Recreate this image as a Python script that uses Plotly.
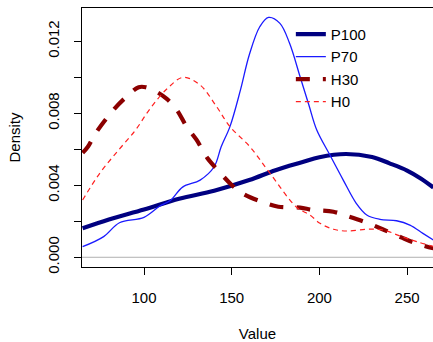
import plotly.graph_objects as go

# ---- data ----
p100_x = [65, 80, 100, 120, 140, 160, 175, 190, 200, 215, 230, 240, 250, 258, 265]
p100_y = [0.00161, 0.0021, 0.00265, 0.00325, 0.0037, 0.00429, 0.00484, 0.00528, 0.00556,
          0.00574, 0.00557, 0.00522, 0.00482, 0.00437, 0.00388]

p70_x = [65, 77, 86, 100, 109, 115, 122, 132, 140, 144, 149, 155, 160, 166, 171, 177.5,
         183, 189, 194, 198.5, 206, 213.6, 221, 227, 234.5, 244, 251.6, 259, 265]
p70_y = [0.00059, 0.00115, 0.00192, 0.00222, 0.00285, 0.00315, 0.0039, 0.00429, 0.00503,
         0.00614, 0.00726, 0.0093, 0.01124, 0.01281, 0.01333, 0.013, 0.01189, 0.01003,
         0.00846, 0.00707, 0.00568, 0.00429, 0.003, 0.00235, 0.00211, 0.00203, 0.00179,
         0.00133, 0.00096]

h30_x = [65, 68, 72.4, 82.5, 90, 97, 101, 107, 113, 118.6, 124.3, 130, 136, 142, 150,
         156.6, 167, 176.6, 189, 196, 208, 217, 228, 236, 247, 255, 265]
h30_y = [0.0058, 0.00614, 0.00689, 0.00818, 0.00892, 0.00945, 0.00945, 0.0092, 0.0088,
         0.0082, 0.00726, 0.00652, 0.00553, 0.00485, 0.00402, 0.00352, 0.00309, 0.00281,
         0.00276, 0.00263, 0.00253, 0.00226, 0.00189, 0.00156, 0.00109, 0.00078, 0.0005]

h0_x = [65, 75, 85, 95, 103.4, 113, 122.4, 132, 141.4, 149, 160.4, 171.8, 187, 194.6,
        200.3, 208, 215.6, 227, 236.4, 246, 255.5, 265]
h0_y = [0.00318, 0.0047, 0.0059, 0.00705, 0.00825, 0.00935, 0.01, 0.00957, 0.00837,
        0.00726, 0.00614, 0.00467, 0.00278, 0.00235, 0.00189, 0.00156, 0.00146, 0.00156,
        0.00152, 0.00118, 0.00087, 0.0006]

x_ticks = [100, 150, 200, 250]
y_ticks = [0.0, 0.002, 0.004, 0.006, 0.008, 0.010, 0.012]
y_tick_text = ["0.000", "", "0.004", "", "0.008", "", "0.012"]

FONT = "Liberation Sans, Arial, Helvetica, sans-serif"

fig = go.Figure()
fig.add_trace(go.Scatter(x=p100_x, y=p100_y, name="P100", mode="lines",
                         line=dict(color="#000080", width=4.2, shape="spline")))
fig.add_trace(go.Scatter(x=p70_x, y=p70_y, name="P70", mode="lines",
                         line=dict(color="#1a1aff", width=1.3, shape="spline")))
fig.add_trace(go.Scatter(x=h30_x, y=h30_y, name="H30", mode="lines",
                         line=dict(color="#8B0000", width=4.2, shape="spline", dash="14px,13px")))
fig.add_trace(go.Scatter(x=h0_x, y=h0_y, name="H0", mode="lines",
                         line=dict(color="#ff2020", width=1.2, shape="spline", dash="5px,4px")))

fig.add_hline(y=0, line=dict(color="#b0b0b0", width=1), layer="below")

fig.update_layout(
    width=433, height=342,
    margin=dict(l=82, r=0, t=8, b=75, pad=0, autoexpand=False),
    paper_bgcolor="white", plot_bgcolor="white",
    font=dict(family=FONT, size=15, color="black"),
    showlegend=True,
    legend=dict(x=0.595, xanchor="left", y=0.962, yanchor="top",
                bgcolor="rgba(0,0,0,0)", borderwidth=0,
                font=dict(family=FONT, size=15, color="black"),
                tracegroupgap=0, itemwidth=30),
    xaxis=dict(range=[64.65, 264.77], tickvals=x_ticks, ticks="outside", ticklen=7,
               tickwidth=1, tickcolor="black", showline=True, linecolor="black",
               linewidth=1.2, mirror=True, showgrid=False, zeroline=False,
               ticklabelstandoff=10, automargin=False,
               title=dict(text="Value", standoff=23, font=dict(size=15))),
    yaxis=dict(range=[-0.00054, 0.013852], tickvals=y_ticks, ticktext=y_tick_text,
               ticks="outside", ticklen=7, tickwidth=1, tickcolor="black",
               showline=True, linecolor="black", linewidth=1.2, mirror=False,
               showgrid=False, zeroline=False, tickangle=-90, ticklabelstandoff=9,
               automargin=False,
               title=dict(text="Density", standoff=20, font=dict(size=15))),
)

fig.write_html("out.html", config={"displayModeBar": False},
               post_script="document.body.style.margin='0';document.body.style.overflow='hidden';")
